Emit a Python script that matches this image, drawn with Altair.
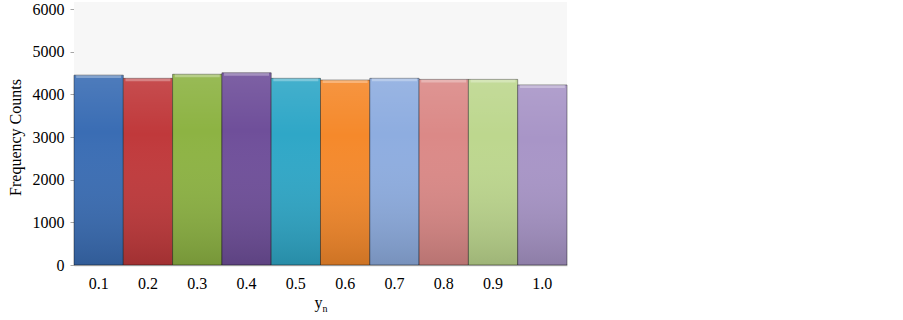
import altair as alt
import pandas as pd

# Frequency of each y_n bin
bins = ["0.1", "0.2", "0.3", "0.4", "0.5", "0.6", "0.7", "0.8", "0.9", "1.0"]
counts = [4450, 4375, 4470, 4505, 4375, 4335, 4375, 4350, 4350, 4220]
bar_colors = ["#3a6db4", "#c0393b", "#8db343", "#6f4f9a", "#2fa7c7",
              "#f5892b", "#8eade0", "#db8987", "#bdd78e", "#a895c7"]

W, H = 493, 256
FONT = "Liberation Serif"

df = pd.DataFrame({"bin": bins, "count": counts})

x_enc = alt.X("bin:N", sort=bins,
              scale=alt.Scale(paddingInner=0, paddingOuter=0),
              axis=alt.Axis(title=None, labelAngle=0, labelFont=FONT,
                            labelFontSize=16, labelColor="#000", labelPadding=10,
                            ticks=False, domainColor="#bfbfbf", domainWidth=1.5))
y_enc = alt.Y("count:Q", scale=alt.Scale(domain=[0, 6000]),
              axis=alt.Axis(title="Frequency Counts", values=[0, 1000, 2000, 3000, 4000, 5000, 6000],
                            format="d",
                            labelFont=FONT, labelFontSize=16, labelColor="#000",
                            titleFont=FONT, titleFontSize=16, titleFontWeight="normal",
                            titleColor="#000", titlePadding=9, grid=False,
                            domainColor="#a6a6a6", tickColor="#a6a6a6", tickSize=4,
                            labelPadding=6))

# light backdrop extending slightly above the top of the value axis
backdrop = alt.Chart(df).mark_rect(color="#f7f7f7").encode(
    x=alt.value(0), x2=alt.value(W), y=alt.value(-7), y2=alt.value(H)
)

bars = alt.Chart(df).mark_bar(stroke="#00000066", strokeWidth=1).encode(
    x=x_enc, y=y_enc,
    color=alt.Color("bin:N", sort=bins, scale=alt.Scale(domain=bins, range=bar_colors), legend=None),
)

# vertical shading over each bar
shade = alt.Chart(df).mark_bar(
    color=alt.Gradient(
        gradient="linear", x1=0, x2=0, y1=0, y2=1,
        stops=[alt.GradientStop(color="rgba(255,255,255,0.10)", offset=0),
               alt.GradientStop(color="rgba(255,255,255,0.0)", offset=0.3),
               alt.GradientStop(color="rgba(0,0,0,0.16)", offset=1)]
    )
).encode(x=alt.X("bin:N", sort=bins), y="count:Q")

# bevel highlight along each bar top
bevel = alt.Chart(df).transform_calculate(
    lower="datum.count - 70"
).mark_bar(color="rgba(255,255,255,0.30)", size=45).encode(
    x=alt.X("bin:N", sort=bins), y="count:Q", y2="lower:Q",
)

title_y = alt.Chart(pd.DataFrame({"t": ["y"]})).mark_text(
    font=FONT, fontSize=16, color="#000", baseline="alphabetic", align="right"
).encode(x=alt.value(W / 2 + 2), y=alt.value(H + 43), text="t:N")
title_n = alt.Chart(pd.DataFrame({"t": ["n"]})).mark_text(
    font=FONT, fontSize=10, color="#000", baseline="alphabetic", align="left"
).encode(x=alt.value(W / 2 + 2), y=alt.value(H + 47), text="t:N")

chart = alt.layer(backdrop, bars, shade, bevel, title_y, title_n).properties(
    width=W, height=H,
    autosize=alt.AutoSizeParams(type="none"),
    padding={"left": 74, "top": 9, "right": 336, "bottom": 55},
    background="white",
).configure_view(stroke=None, fill="#f7f7f7")

chart.save("out.html", embed_options={"renderer": "svg", "actions": False})
